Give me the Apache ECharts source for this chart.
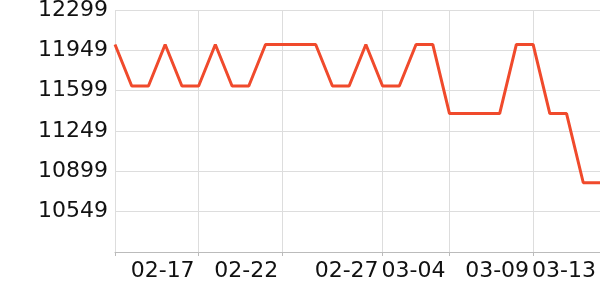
<!DOCTYPE html>
<html><head><meta charset="utf-8">
<script src="https://cdn.jsdelivr.net/npm/echarts@6/dist/echarts.min.js"></script>
<style>html,body{margin:0;padding:0;background:#fff}#c{width:600px;height:300px}</style>
</head><body><div id="c"></div>
<script>
const categories = ['02-12','02-13','02-14','02-15','02-16','02-17','02-18','02-19','02-20','02-21',
  '02-22','02-23','02-24','02-25','02-26','02-26','02-27','02-28','03-01','03-03',
  '03-04','03-05','03-06','03-07','03-08','03-09','03-10','03-11','03-12','03-13'];
const values = [12000,11640,11640,12000,11640,11640,12000,11640,11640,12000,
  12000,12000,12000,11640,11640,12000,11640,11640,12000,12000,
  11400,11400,11400,11400,12000,12000,11400,11400,10800,10800];
const labelIdx = [5,10,16,20,25,29];
const tickIdx = [0,5,10,16,20,25,29];
const yMin = 10199, yMax = 12299, yStep = 350;

const chart = echarts.init(document.getElementById('c'));
chart.setOption({
  animation:false,
  grid:{left:115, right:0, top:10, bottom:48, containLabel:false, outerBoundsMode:'none'},
  xAxis:{
    type:'category', data:categories, boundaryGap:false,
    axisLine:{lineStyle:{color:'#bbb', width:1}},
    axisTick:{show:true, length:4, interval:(i)=>tickIdx.includes(i), lineStyle:{color:'#bbb'}},
    splitLine:{show:true, interval:(i)=>tickIdx.includes(i), lineStyle:{color:'#ddd', width:1}},
    axisLabel:{interval:(i)=>labelIdx.includes(i), align:'right', fontSize:22, color:'#111',
      fontFamily:'DejaVu Sans', margin:8, padding:[0,4,0,0]}
  },
  yAxis:{
    type:'value', min:yMin, max:yMax, interval:yStep,
    axisLine:{show:false}, axisTick:{show:false},
    splitLine:{lineStyle:{color:'#ddd', width:1}},
    axisLabel:{showMinLabel:false, fontSize:22, color:'#111', fontFamily:'DejaVu Sans', margin:7,
      formatter:(v)=>String(v)}
  },
  series:[{type:'line', data:values, symbol:'none', lineStyle:{color:'#f04a2c', width:3}, itemStyle:{color:'#f04a2c'}}]
});
</script></body></html>
